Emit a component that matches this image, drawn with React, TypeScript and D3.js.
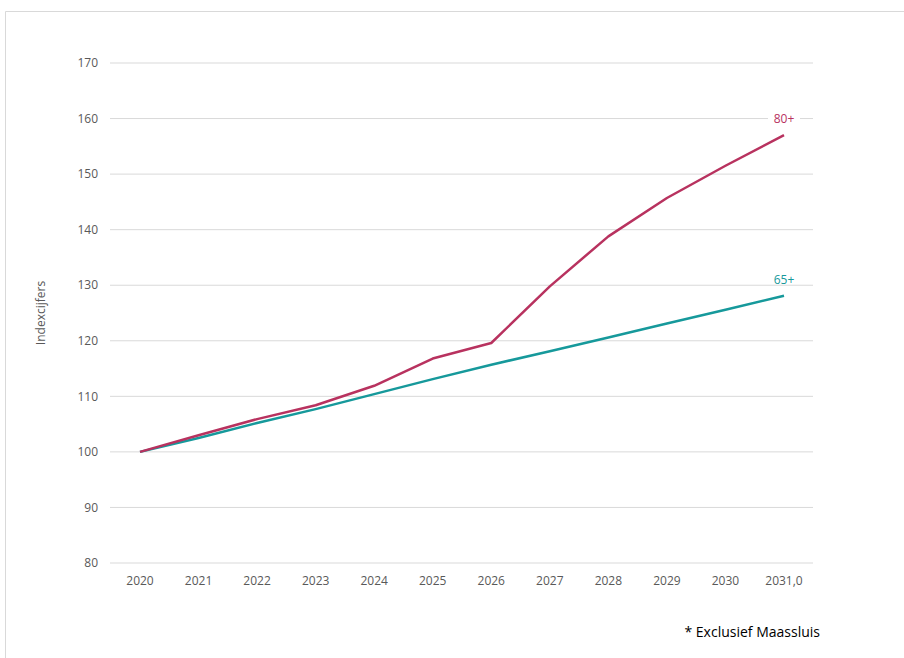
import React from "react";
import * as d3 from "d3";

const years = ["2020", "2021", "2022", "2023", "2024", "2025", "2026", "2027", "2028", "2029", "2030", "2031,0"];
const series80 = [100, 103.0, 105.9, 108.4, 111.9, 116.8, 119.6, 129.8, 138.8, 145.7, 151.5, 157.0];
const series65 = [100, 102.5, 105.2, 107.7, 110.4, 113.1, 115.7, 118.1, 120.6, 123.1, 125.6, 128.1];
const yTicks = [80, 90, 100, 110, 120, 130, 140, 150, 160, 170];

const W = 904, H = 658;
const FONT = "'Open Sans', 'Liberation Sans', sans-serif";

export default function App() {
  const x = d3.scalePoint<string>().domain(years).range([140, 784]);
  const y = d3.scaleLinear().domain([80, 170]).range([563, 63]);
  const line = d3.line<number>().x((_, i) => x(years[i])!).y((d) => y(d));

  return (
    <svg width={W} height={H} style={{ position: "absolute", left: 0, top: 0 }}>
      <rect x={0} y={0} width={W} height={H} fill="#fff" />
      <line x1={5.5} y1={11.5} x2={W} y2={11.5} stroke="#d9d9d9" />
      <line x1={5.5} y1={11.5} x2={5.5} y2={H} stroke="#d9d9d9" />
      {yTicks.map((t) => (
        <g key={t}>
          <line x1={110} x2={813} y1={y(t)} y2={y(t)} stroke="#d9d9d9" strokeWidth={1} />
          <text x={98} y={y(t)} dy="0.35em" textAnchor="end" fontSize={12} fill="#595959" fontFamily={FONT}>{t}</text>
        </g>
      ))}
      {years.map((yr) => (
        <text key={yr} x={x(yr)} y={585} textAnchor="middle" fontSize={12} fill="#595959" fontFamily={FONT}>{yr}</text>
      ))}
      <text transform={`translate(45,${y(125)}) rotate(-90)`} textAnchor="middle" fontSize={12} fill="#595959" fontFamily={FONT}>Indexcijfers</text>
      <path d={line(series65)!} fill="none" stroke="#16999b" strokeWidth={2.5} strokeLinejoin="round" />
      <path d={line(series80)!} fill="none" stroke="#b8325f" strokeWidth={2.5} strokeLinejoin="round" />
      <rect x={768} y={y(160) - 8} width={32} height={16} fill="#fff" />
      <text x={x(years[11])!} y={y(160)} dy="0.35em" textAnchor="middle" fontSize={12} fill="#b8325f" fontFamily={FONT}>80+</text>
      <text x={x(years[11])!} y={y(131)} dy="0.35em" textAnchor="middle" fontSize={12} fill="#16999b" fontFamily={FONT}>65+</text>
      <text x={820} y={637} textAnchor="end" fontSize={14} fill="#000" fontFamily={FONT}>* Exclusief Maassluis</text>
    </svg>
  );
}
